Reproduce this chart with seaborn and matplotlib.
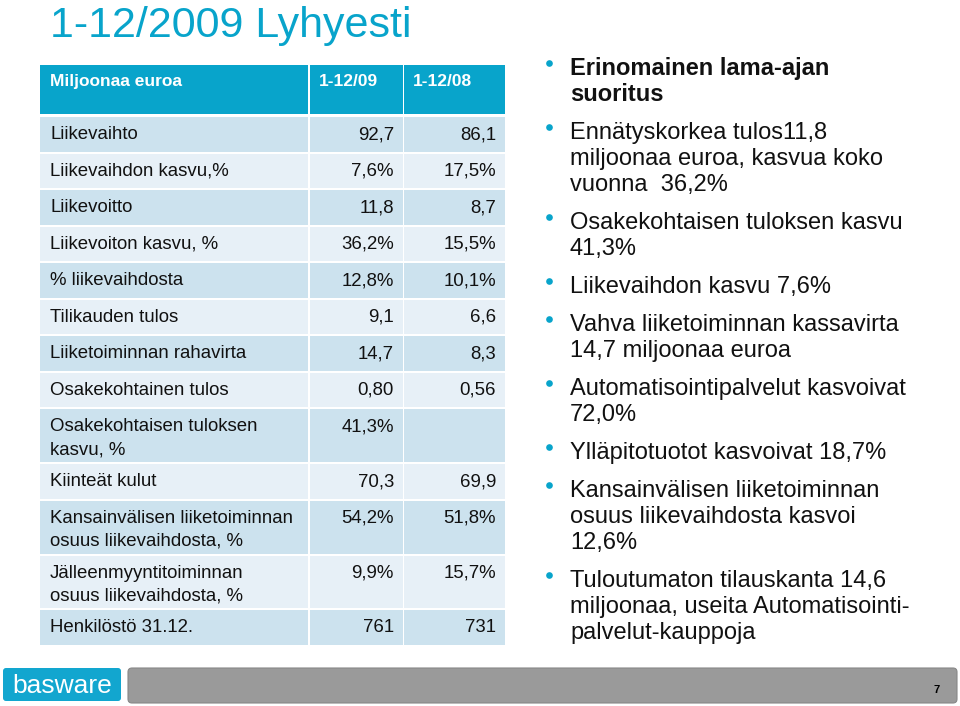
import matplotlib
matplotlib.use("Agg")
import matplotlib.pyplot as plt
from matplotlib.patches import Rectangle, FancyBboxPatch
import seaborn as sns

# ---------------- data ----------------
title = "1-12/2009 Lyhyesti"
header = ["Miljoonaa euroa", "1-12/09", "1-12/08"]
row_labels = [
    "Liikevaihto",
    "Liikevaihdon kasvu,%",
    "Liikevoitto",
    "Liikevoiton kasvu, %",
    "% liikevaihdosta",
    "Tilikauden tulos",
    "Liiketoiminnan rahavirta",
    "Osakekohtainen tulos",
    "Osakekohtaisen tuloksen\nkasvu, %",
    "Kiinteät kulut",
    "Kansainvälisen liiketoiminnan\nosuus liikevaihdosta, %",
    "Jälleenmyyntitoiminnan\nosuus liikevaihdosta, %",
    "Henkilöstö 31.12.",
]
values_2009 = ["92,7", "7,6%", "11,8", "36,2%", "12,8%", "9,1", "14,7", "0,80",
               "41,3%", "70,3", "54,2%", "9,9%", "761"]
values_2008 = ["86,1", "17,5%", "8,7", "15,5%", "10,1%", "6,6", "8,3", "0,56",
               "", "69,9", "51,8%", "15,7%", "731"]
bullets = [
    "Erinomainen lama-ajan\nsuoritus",
    "Ennätyskorkea tulos11,8\nmiljoonaa euroa, kasvua koko\nvuonna  36,2%",
    "Osakekohtaisen tuloksen kasvu\n41,3%",
    "Liikevaihdon kasvu 7,6%",
    "Vahva liiketoiminnan kassavirta\n14,7 miljoonaa euroa",
    "Automatisointipalvelut kasvoivat\n72,0%",
    "Ylläpitotuotot kasvoivat 18,7%",
    "Kansainvälisen liiketoiminnan\nosuus liikevaihdosta kasvoi\n12,6%",
    "Tuloutumaton tilauskanta 14,6\nmiljoonaa, useita Automatisointi-\npalvelut-kauppoja",
]
bold_bullets = [True] + [False] * 8
logo_text = "basware"
page_number = "7"

# ---------------- style ----------------
sns.set_theme(style="white")
plt.rcParams['font.family'] = ['Liberation Sans', 'DejaVu Sans']

CYAN = "#08A4CB"
DARK_ROW = "#CCE2EE"
LIGHT_ROW = "#E7F0F7"
TXT = "#111111"

W, H = 960, 706
fig = plt.figure(figsize=(9.6, 7.06), dpi=100)
ax = fig.add_axes([0, 0, 1, 1])
ax.set_xlim(0, W)
ax.set_ylim(H, 0)
ax.axis("off")

# title
ax.text(50, 37, title, fontsize=31, color=CYAN, va="baseline", ha="left")

# table geometry
col_x = [40, 310, 404]
col_w = [268, 93, 101]
gap = 2
unit = 36.55
fs_tab = 13.4

# header
for cx, cw in zip(col_x, col_w):
    ax.add_patch(Rectangle((cx, 65), cw, 49, facecolor=CYAN, edgecolor="none"))
ax.text(50, 86, header[0], fontsize=12.5, color="white", fontweight="bold", va="baseline")
ax.text(319, 86, header[1], fontsize=12.5, color="white", fontweight="bold", va="baseline")
ax.text(413, 86, header[2], fontsize=12.5, color="white", fontweight="bold", va="baseline")

# rows
y = 117
for i, (lab, v1, v2) in enumerate(zip(row_labels, values_2009, values_2008)):
    nlines = lab.count("\n") + 1
    h = unit * (1 if nlines == 1 else 1.5) - gap
    color = DARK_ROW if i % 2 == 0 else LIGHT_ROW
    for cx, cw in zip(col_x, col_w):
        ax.add_patch(Rectangle((cx, y), cw, h, facecolor=color, edgecolor="none"))
    for j, line in enumerate(lab.split("\n")):
        ax.text(50, y + 22 + 23 * j, line, fontsize=fs_tab, color=TXT, va="baseline")
    ax.text(394, y + 22, v1, fontsize=fs_tab, color=TXT, va="baseline", ha="right")
    ax.text(496, y + 22, v2, fontsize=fs_tab, color=TXT, va="baseline", ha="right")
    y += h + gap

# bullets
by = 75
for txt, bold in zip(bullets, bold_bullets):
    lines = txt.split("\n")
    ax.plot(549, by - 12, "o", color=CYAN, ms=4.8, mew=0)
    for j, line in enumerate(lines):
        ax.text(570, by + 26 * j, line, fontsize=17, color=TXT, va="baseline",
                fontweight="bold" if bold else "normal")
    by += 26 * (len(lines) - 1) + 38

# footer
ax.add_patch(FancyBboxPatch((3, 668), 118, 33, boxstyle="round,pad=0,rounding_size=3",
                            facecolor="#12A6CF", edgecolor="none"))
ax.text(62, 686, logo_text, fontsize=19, color="white", ha="center", va="center")
ax.add_patch(FancyBboxPatch((128, 668), 829, 35, boxstyle="round,pad=0,rounding_size=4",
                            facecolor="#9A9A9A", edgecolor="#888888", lw=0.8))
ax.text(937, 693, page_number, fontsize=8, color="black", fontweight="bold",
        ha="center", va="baseline")

fig.savefig("out.png", dpi=100)
